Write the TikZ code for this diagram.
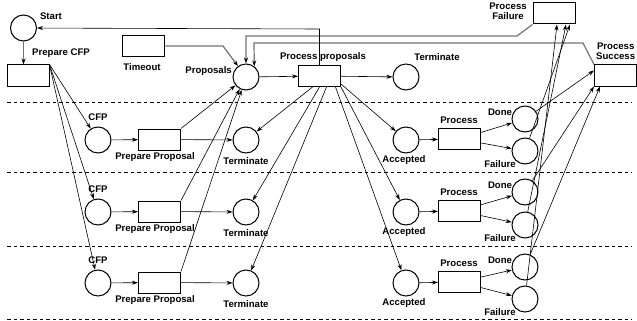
\documentclass[tikz,border=0pt]{standalone}
\usepackage{fontspec}
\setmainfont{Liberation Sans}
\usetikzlibrary{arrows.meta,calc}
\begin{document}
\begin{tikzpicture}[x=1pt,y=-1pt,
  place/.style={circle,draw,line width=1pt,minimum size=26pt,inner sep=0pt},
  trans/.style={rectangle,draw,line width=1pt,minimum width=42pt,minimum height=21pt,inner sep=0pt},
  lbl/.style={font=\bfseries\fontsize{9.6}{10.5}\selectfont,inner sep=0pt,align=center},
  arc/.style={line width=0.6pt,-{Stealth[length=6pt,width=4pt]}},
  garc/.style={line width=1.2pt,draw=black!55,-{Stealth[length=6pt,width=4pt,color=black]}},
  sep/.style={line width=0.6pt,dash pattern=on 3.5pt off 3pt}
]
\useasboundingbox (0,0) rectangle (637,321);
% separators
\foreach \yy in {102,172,246,319} \draw[sep] (7,\yy) -- (632,\yy);
% top nodes
\node[place] (start) at (23.5,28) {};
\node[lbl] (startl) at (51,16) {Start};
\node[trans] (prepcfp) at (28,75.5) {};
\node[lbl] (prepcfpl) at (61,53) {Prepare CFP};
\node[trans] (timeout) at (143,46) {};
\node[lbl] (timeoutl) at (142,67) {Timeout};
\node[place] (proposals) at (246,77) {};
\node[lbl,anchor=east] (proposalsl) at (232,71) {Proposals};
\node[trans] (procprop) at (319.5,76) {};
\node[lbl] (procpropl) at (323,57) {Process proposals};
\node[place] (term0) at (406,77) {};
\node[lbl] (term0l) at (437,57) {Terminate};
\node[trans] (procfail) at (554,13.5) {};
\node[lbl] (procfaill) at (508,11) {Process\\Failure};
\node[trans] (procsucc) at (615.5,75.5) {};
\node[lbl,anchor=west] (procsuccl) at (596,51) {Process\\Success};
% rows
\foreach \r/\dy/\dd/\df in {1/0/119/151, 2/72/192/225, 3/143/267/299} {
  \node[place] (cfp\r) at (98,140+\dy) {};
  \node[lbl] (cfpl\r) at (98,117+\dy) {CFP};
  \node[trans] (pp\r) at (159.5,139.5+\dy) {};
  \node[lbl] (ppl\r) at (155,157+\dy) {Prepare Proposal};
  \node[place] (term\r) at (246,140+\dy) {};
  \node[lbl] (terml\r) at (246,161+\dy) {Terminate};
  \node[place] (acc\r) at (406,140+\dy) {};
  \node[lbl] (accl\r) at (404,160+\dy) {Accepted};
  \node[trans] (proc\r) at (459.5,139+\dy) {};
  \node[lbl] (procl\r) at (459,120+\dy) {Process};
  \node[place] (done\r) at (525,\dd) {};
  \node[lbl] (donel\r) at (500,\dd-7) {Done};
  \node[place] (fail\r) at (525,\df) {};
  \node[lbl] (faill\r) at (500,\df+13) {Failure};
  \draw[arc] (prepcfp.north east) -- (cfp\r);
  \draw[arc] (cfp\r) -- (pp\r);
  \draw[arc] (pp\r) -- (term\r);
  \draw[arc] (pp\r.north east) -- (proposals);
  \draw[arc] (acc\r) -- (proc\r);
  \draw[arc] (proc\r) -- (done\r);
  \draw[arc] (proc\r) -- (fail\r);
}
% coordinates for bent connectors
\coordinate (tbend) at (223,46);
\coordinate (fbend) at (517,36);
\coordinate (fcorner) at (246,36);
\coordinate (sbend) at (583,43);
\coordinate (scorner) at (254,43);
\coordinate (sturn) at (319.5,29);
% top connectors
\draw[garc] (start) -- (start |- prepcfp.north);
\draw[garc] (timeout.east) -- (tbend) -- (proposals);
\draw[garc] (procfail.south west) -- (fbend) -- (fcorner) -- (proposals.north);
\draw[garc] (procsucc.north west) -- (sbend) -- (scorner) -- (proposals.52);
\draw[arc] (procprop.north) -- (sturn) -- (start);
\draw[arc] (proposals) -- (procprop);
\draw[arc] (procprop) -- (term0);
% fan from process proposals
\draw[arc] ([xshift=-7pt]procprop.south) -- (term1);
\draw[arc] (procprop.south) -- (term2);
\draw[arc] ([xshift=7pt]procprop.south) -- (term3);
\draw[arc] ([xshift=16pt]procprop.south) -- (acc3);
\draw[arc] (procprop.south east) -- (acc2);
\draw[arc] ([yshift=3pt]procprop.south east) -- (acc1);
% outcomes
\draw[arc] (done1) -- ([yshift=5pt]procsucc.west);
\draw[arc] (done2) -- (procsucc.south west);
\draw[arc] (done3) -- ([xshift=6pt]procsucc.south west);
\draw[arc] (fail1) -- ([xshift=16pt]procfail.south);
\draw[arc] (fail2) -- ([xshift=12pt]procfail.south);
\draw[arc] (fail3) -- ([xshift=3pt]procfail.south);
\end{tikzpicture}
\end{document}
